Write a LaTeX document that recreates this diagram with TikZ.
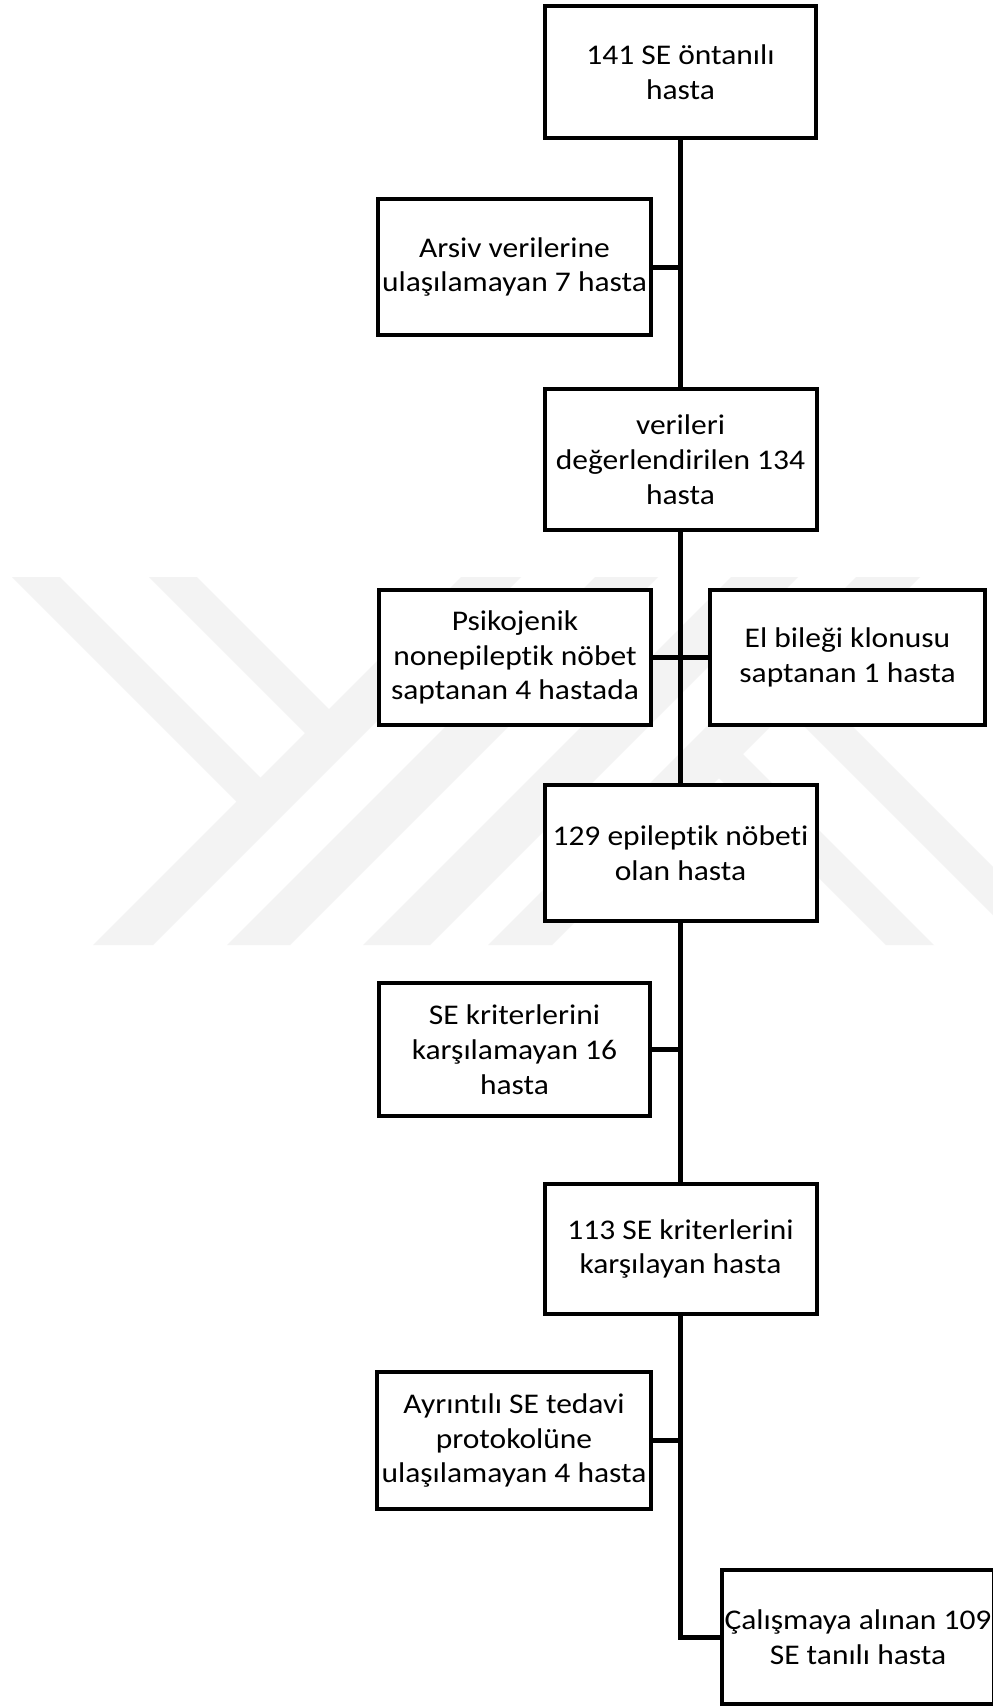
\documentclass[tikz,border=0pt]{standalone}
\usepackage{fontspec}
\setmainfont{Carlito}[FakeStretch=1.105, Ligatures=NoCommon]
\definecolor{wmgray}{RGB}{243,243,243}
\begin{document}
\begin{tikzpicture}[x=1pt,y=-1pt,
  box/.style={draw=black, line width=4pt, fill=white, align=center,
    inner sep=0pt, font=\fontsize{28.5}{34.8}\selectfont},
  link/.style={draw=black, line width=5pt},
  wm/.style={fill=wmgray, draw=none}]
\useasboundingbox (0,0) rectangle (993,1708);
\clip (0,0) rectangle (993,1708);
\fill[white] (0,0) rectangle (993,1708);
% watermark
\fill[wm] (12,577) -- (60,577) -- (275.5,792.5) -- (251.5,816.5) -- cycle;
\fill[wm] (149,577) -- (197,577) -- (344,724) -- (320,748) -- cycle;
\fill[wm] (461,577) -- (521,577) -- (153,945) -- (93,945) -- cycle;
\fill[wm] (595,577) -- (658,577) -- (290,945) -- (227,945) -- cycle;
\fill[wm] (731,577) -- (798,577) -- (430,945) -- (363,945) -- cycle;
\fill[wm] (856,577) -- (920,577) -- (552,945) -- (488,945) -- cycle;
\fill[wm] (727,738) -- (703,762) -- (886,945) -- (934,945) -- cycle;
\fill[wm] (795.5,669.5) -- (771.5,693.5) -- (1023,945) -- (1071,945) -- cycle;
% boxes
\node[box, minimum width=271pt, minimum height=132pt] (b1) at (680.5,72) {141 SE öntanılı\\hasta};
\node[box, minimum width=273pt, minimum height=136pt] (b2) at (514.5,267) {Arsiv verilerine\\ulaşılamayan 7 hasta};
\node[box, minimum width=272pt, minimum height=141pt] (b3) at (680.5,459.5) {verileri\\değerlendirilen 134\\hasta};
\node[box, minimum width=272pt, minimum height=135pt] (b4) at (515,657.5) {Psikojenik\\nonepileptik nöbet\\saptanan 4 hastada};
\node[box, minimum width=275pt, minimum height=135pt] (b4e) at (847.5,657.5) {El bileği klonusu\\saptanan 1 hasta};
\node[box, minimum width=272pt, minimum height=136pt] (b5) at (680.5,853) {129 epileptik nöbeti\\olan hasta};
\node[box, minimum width=271pt, minimum height=133pt] (b6) at (514.5,1049.5) {SE kriterlerini\\karşılamayan 16\\hasta};
\node[box, minimum width=272pt, minimum height=130pt] (b7) at (680.5,1249) {113 SE kriterlerini\\karşılayan hasta};
\node[box, minimum width=274pt, minimum height=137pt] (b8) at (514,1440.5) {Ayrıntılı SE tedavi\\protokolüne\\ulaşılamayan 4 hasta};
\node[box, minimum width=272pt, minimum height=134pt] (b9) at (858,1637) {Çalışmaya alınan 109\\SE tanılı hasta};
% connectors
\draw[link] (b1.south) -- (b3.north);
\draw[link] (b3.south) -- (b5.north);
\draw[link] (b5.south) -- (b7.north);
\draw[link] (b7.south) |- (b9.west);
\draw[link] (b2.east) -- (b2.east -| b1.south);
\draw[link] (b4.east) -- (b4e.west);
\draw[link] (b6.east) -- (b6.east -| b1.south);
\draw[link] (b8.east) -- (b8.east -| b1.south);
\end{tikzpicture}
\end{document}
